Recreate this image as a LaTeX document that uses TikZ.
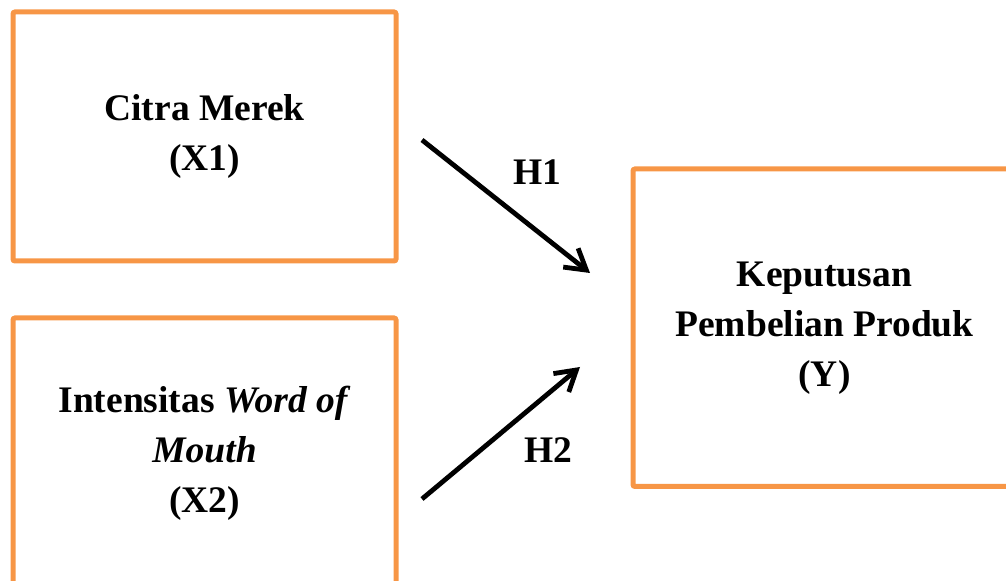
\documentclass[tikz,border=0pt]{standalone}
\usepackage{fontspec}
\setmainfont{Liberation Serif}
\usetikzlibrary{arrows.meta,positioning}
\definecolor{boxOrange}{RGB}{247,150,70}
\newcommand{\varfont}{\fontsize{18.75}{25}\selectfont\bfseries}
\tikzset{
  varbox/.style={draw=boxOrange, line width=2.5pt, rounded corners=1pt, align=center,
                 minimum width=191.5pt, inner sep=0pt, font=\varfont},
  hyparrow/.style={-{Straight Barb[length=10pt,width=12pt]}, line width=2.4pt, draw=black},
  hyplabel/.style={inner sep=0pt, font=\varfont}
}

\begin{document}
\begin{tikzpicture}[x=0.5pt, y=-0.5pt]
\useasboundingbox (0,0) rectangle (1006,581);
\clip (0,0) rectangle (1006,581);
\node[varbox, minimum height=124.5pt] (x1) at (204.5,136.5) {Citra Merek\\(X1)};
\node[varbox, minimum height=135pt] (x2) at (204.5,453) {Intensitas \textit{Word of}\\\textit{Mouth}\\(X2)};
\node[varbox, minimum height=158.75pt] (y) at (824.5,327.75) {Keputusan\\Pembelian Produk\\(Y)};
\coordinate (h1tail) at (422,140);
\coordinate (h1head) at (590,273);
\coordinate (h2tail) at (422,499);
\coordinate (h2head) at (580,367);
\draw[hyparrow] (h1tail) -- (h1head);
\draw[hyparrow] (h2tail) -- (h2head);
\node[hyplabel] (h1) at (537,172) {H1};
\node[hyplabel] (h2) at (548,450) {H2};
\end{tikzpicture}
\end{document}
